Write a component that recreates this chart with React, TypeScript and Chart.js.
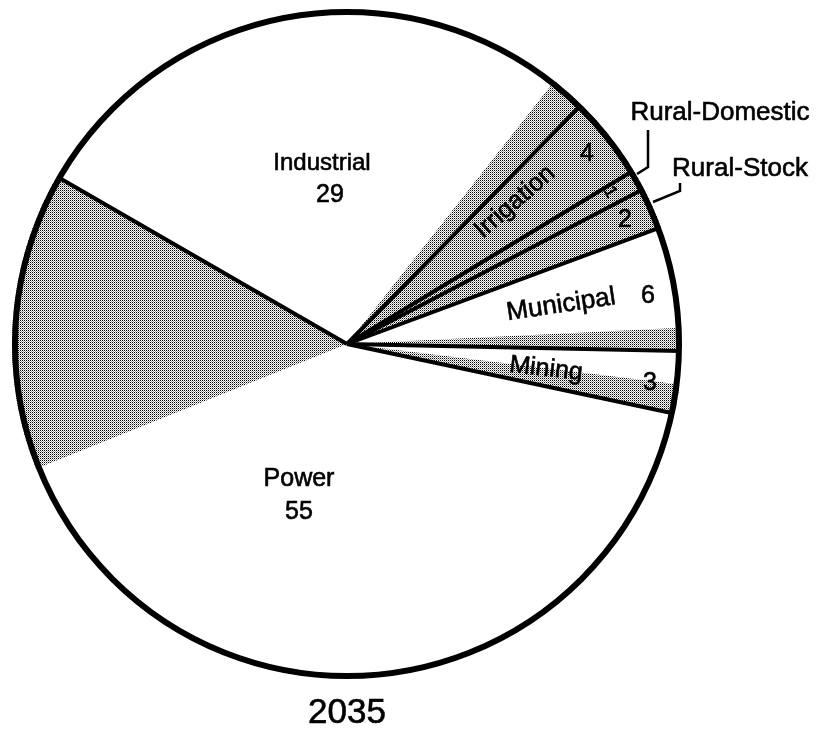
import React, { useEffect, useRef } from 'react';
import { Chart, registerables } from 'chart.js';

Chart.register(...registerables);

// ---- data ----
const categories = ['Power', 'Industrial', 'Irrigation', 'Rural-Domestic', 'Rural-Stock', 'Municipal', 'Mining'];
const totalValues = [55, 29, 4, 1, 2, 6, 3];
const shadedValues = [14.4, 1.7, 4, 1, 2, 1.1, 1.4];
const valueLabels = ['55', '29', '4', '1', '2', '6', '3'];
const yearLabel = '2035';

const FONT = "'Liberation Sans', Arial, Helvetica, sans-serif";

// label placement (offsets from the pie centre, in px for a 335px radius)
const nameLayout: Record<string, { dx: number; dy: number; rot: number; size: number }> = {
  Power: { dx: -48, dy: 135, rot: 0, size: 25 },
  Industrial: { dx: -25, dy: -181, rot: 0, size: 24 },
  Irrigation: { dx: 168, dy: -142, rot: -41, size: 25 },
  'Rural-Domestic': { dx: 373, dy: -231, rot: 0, size: 26 },
  'Rural-Stock': { dx: 393, dy: -175, rot: 0, size: 26 },
  Municipal: { dx: 214, dy: -39, rot: -8.5, size: 26 },
  Mining: { dx: 199, dy: 25, rot: 6.5, size: 25 },
};
const valueLayout: Record<string, { dx: number; dy: number; rot: number; size: number }> = {
  Power: { dx: -48, dy: 168, rot: 0, size: 25 },
  Industrial: { dx: -17, dy: -149, rot: 0, size: 25 },
  Irrigation: { dx: 240, dy: -190, rot: 0, size: 25 },
  'Rural-Domestic': { dx: 263, dy: -152, rot: 60, size: 18 },
  'Rural-Stock': { dx: 278, dy: -124, rot: 0, size: 25 },
  Municipal: { dx: 301, dy: -48, rot: 0, size: 25 },
  Mining: { dx: 303, dy: 39, rot: 0, size: 25 },
};
const leaders: Record<string, number[][]> = {
  'Rural-Domestic': [[301, -214], [301, -177], [290, -170]],
  'Rural-Stock': [[333, -161], [333, -153], [306, -142]],
};

function makePattern(): CanvasPattern | string {
  const c = document.createElement('canvas');
  c.width = 2;
  c.height = 2;
  const g = c.getContext('2d');
  if (!g) return '#b0b0b0';
  g.fillStyle = '#ffffff';
  g.fillRect(0, 0, 2, 2);
  g.fillStyle = '#000000';
  g.fillRect(0, 0, 1, 1);
  g.fillStyle = '#9a9a9a';
  g.fillRect(1, 1, 1, 1);
  const p = g.createPattern(c, 'repeat');
  return p || '#b0b0b0';
}

const overlayPlugin = {
  id: 'pieOverlay',
  afterDatasetsDraw(chart: any) {
    const meta = chart.getDatasetMeta(0);
    const arcs = meta.data;
    if (!arcs.length) return;
    const { x, y, outerRadius } = arcs[0].getProps(['x', 'y', 'outerRadius'], true);
    const k = outerRadius / 335;
    const ctx = chart.ctx as CanvasRenderingContext2D;
    ctx.save();
    ctx.strokeStyle = '#000';
    ctx.lineCap = 'butt';
    // category boundaries
    ctx.lineWidth = 4;
    categories.forEach((_, ci) => {
      const a = arcs[ci * 2].startAngle;
      ctx.beginPath();
      ctx.moveTo(x, y);
      ctx.lineTo(x + Math.cos(a) * (outerRadius - 2), y + Math.sin(a) * (outerRadius - 2));
      ctx.stroke();
    });
    // outer circle
    ctx.lineWidth = 6;
    ctx.beginPath();
    ctx.arc(x, y, outerRadius - 3, 0, Math.PI * 2);
    ctx.stroke();
    // leader lines
    ctx.lineWidth = 2.5;
    Object.keys(leaders).forEach((key) => {
      const pts = leaders[key];
      ctx.beginPath();
      pts.forEach((p, i) => {
        const px = x + p[0] * k;
        const py = y + p[1] * k;
        if (i === 0) ctx.moveTo(px, py);
        else ctx.lineTo(px, py);
      });
      ctx.stroke();
    });
    // labels
    ctx.fillStyle = '#000';
    ctx.textAlign = 'center';
    ctx.textBaseline = 'middle';
    ctx.lineWidth = 0.6;
    const draw = (text: string, l: { dx: number; dy: number; rot: number; size: number }) => {
      ctx.save();
      ctx.translate(x + l.dx * k, y + l.dy * k);
      ctx.rotate((l.rot * Math.PI) / 180);
      ctx.font = `${l.size}px ${FONT}`;
      ctx.fillText(text, 0, 0);
      ctx.strokeText(text, 0, 0);
      ctx.restore();
    };
    categories.forEach((c, i) => {
      draw(c, nameLayout[c]);
      draw(valueLabels[i], valueLayout[c]);
    });
    draw(yearLabel, { dx: 0, dy: 369, rot: 0, size: 35 });
    ctx.restore();
  },
};

export default function App() {
  const ref = useRef<HTMLCanvasElement | null>(null);
  useEffect(() => {
    document.body.style.margin = '0';
    const canvas = ref.current;
    if (!canvas) return;
    const pattern = makePattern();
    const data: number[] = [];
    const colors: (string | CanvasPattern)[] = [];
    const labels: string[] = [];
    categories.forEach((c, i) => {
      data.push(totalValues[i] - shadedValues[i]);
      colors.push('#ffffff');
      labels.push(c);
      data.push(shadedValues[i]);
      colors.push(pattern);
      labels.push(c + ' (shaded)');
    });
    const chart = new Chart(canvas, {
      type: 'pie',
      data: {
        labels,
        datasets: [
          {
            data,
            backgroundColor: colors as any,
            borderWidth: 0,
          },
        ],
      },
      options: {
        animation: false,
        responsive: false,
        events: [],
        rotation: 102,
        layout: { padding: { left: 12, top: 9, right: 145, bottom: 50 } },
        plugins: {
          legend: { display: false },
          tooltip: { enabled: false },
          title: { display: false },
        },
      },
      plugins: [overlayPlugin],
    });
    return () => chart.destroy();
  }, []);
  return (
    <div style={{ width: 827, height: 729, background: '#fff' }}>
      <canvas ref={ref} width={827} height={729} style={{ display: 'block' }} />
    </div>
  );
}
